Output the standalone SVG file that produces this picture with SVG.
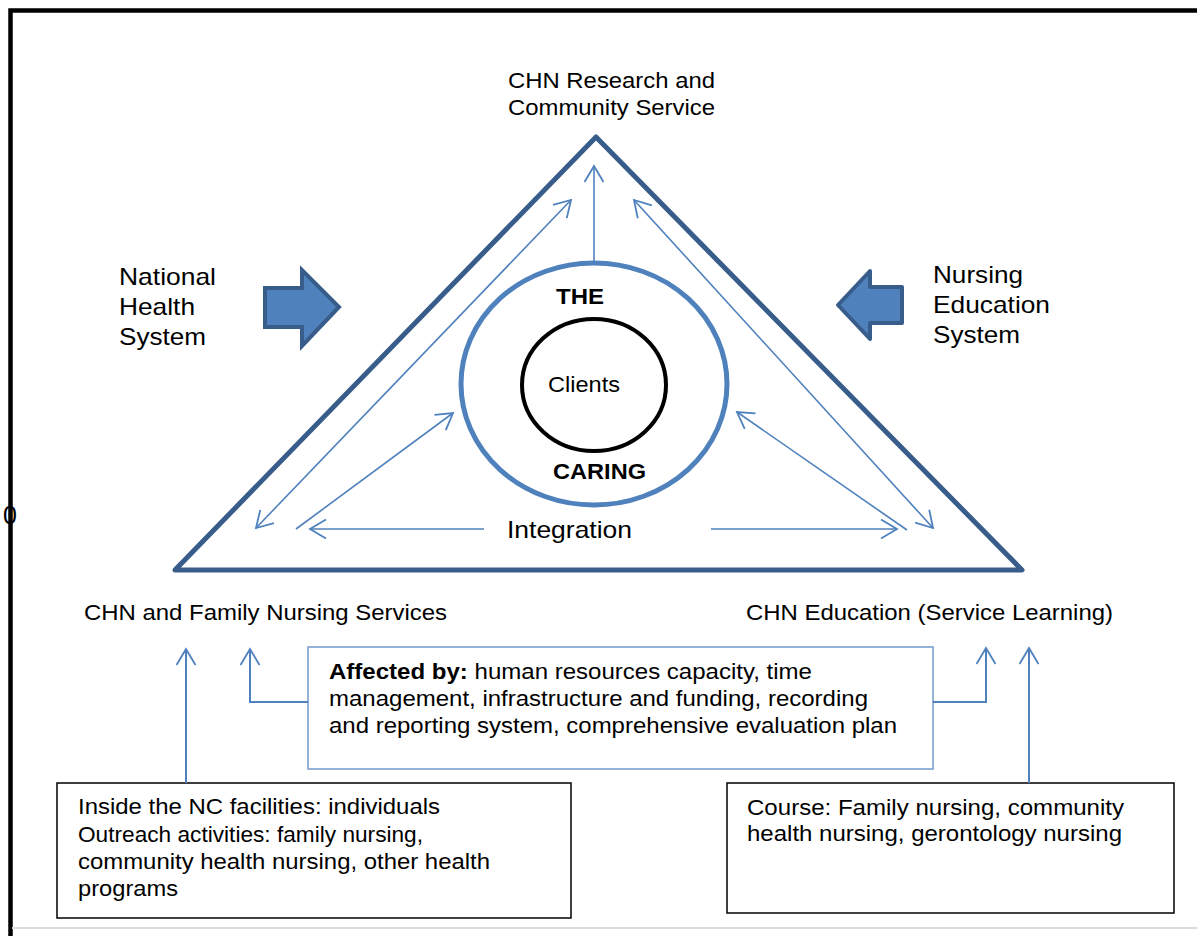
<svg xmlns="http://www.w3.org/2000/svg" width="1197" height="936" viewBox="0 0 1197 936">
  <style>
    text { font-family: "Liberation Sans", Arial, sans-serif; fill: #000; }
    .t22 { font-size: 22px; }
    .t24 { font-size: 24px; }
    .b { font-weight: bold; }
    .conn { fill: none; stroke: #4F81BD; stroke-width: 1.6; }
    .conn2 { fill: none; stroke: #4F81BD; stroke-width: 2; }
    .box { fill: #fff; stroke: #000; stroke-width: 1.5; }
    .blk { fill: #4F81BD; stroke: #385D8A; stroke-width: 4; }
  </style>
  <defs>
    <marker id="open" markerUnits="userSpaceOnUse" markerWidth="40" markerHeight="40" viewBox="-20 -20 40 40" refX="0" refY="0" orient="auto-start-reverse">
      <path d="M-16,-9.5 L0,0 L-16,9.5" fill="none" stroke="#4F81BD" stroke-width="1.8"/>
    </marker>
  </defs>

  <rect width="1197" height="936" fill="#fff"/>

  <!-- page frame -->
  <path d="M10.5,936 V10.5 H1197" fill="none" stroke="#000" stroke-width="4.5"/>
  <line x1="12" y1="928" x2="1197" y2="928" stroke="#dcdcdc" stroke-width="2"/>
  <text x="3" y="524" style="font-size:25px">0</text>

  <!-- main triangle -->
  <g id="triangle">
    <polygon points="596,137 1022,570 175,570" fill="none" stroke="#385D8A" stroke-width="5" stroke-linejoin="round"/>
  </g>

  <!-- caring ring with clients -->
  <g id="caring">
    <ellipse cx="594" cy="384" rx="133" ry="121" fill="none" stroke="#4F81BD" stroke-width="5"/>
    <text class="t22 b" x="556" y="304" textLength="48" lengthAdjust="spacingAndGlyphs">THE</text>
    <text class="t22 b" x="553" y="479" textLength="93" lengthAdjust="spacingAndGlyphs">CARING</text>
  </g>
  <g id="clients">
    <ellipse cx="594" cy="385" rx="72" ry="66" fill="none" stroke="#000" stroke-width="4"/>
    <text class="t22" x="548" y="392" textLength="72" lengthAdjust="spacingAndGlyphs">Clients</text>
  </g>

  <!-- corner labels -->
  <g id="research">
    <text class="t22" x="508" y="88" textLength="207" lengthAdjust="spacingAndGlyphs">CHN Research and</text>
    <text class="t22" x="508" y="115" textLength="207" lengthAdjust="spacingAndGlyphs">Community Service</text>
  </g>
  <g id="services">
    <text class="t22" x="84" y="620" textLength="363" lengthAdjust="spacingAndGlyphs">CHN and Family Nursing Services</text>
  </g>
  <g id="education">
    <text class="t22" x="746" y="620" textLength="367" lengthAdjust="spacingAndGlyphs">CHN Education (Service Learning)</text>
  </g>
  <g id="integration">
    <text class="t24" x="507" y="538" textLength="125" lengthAdjust="spacingAndGlyphs">Integration</text>
  </g>

  <!-- external systems -->
  <g id="national-health">
    <text class="t24" x="119" y="285" textLength="97" lengthAdjust="spacingAndGlyphs">National</text>
    <text class="t24" x="119" y="315" textLength="76" lengthAdjust="spacingAndGlyphs">Health</text>
    <text class="t24" x="119" y="345" textLength="87" lengthAdjust="spacingAndGlyphs">System</text>
    <polygon class="blk" points="265,288 302,288 302,270 339,307 302,346 302,327 265,327" stroke-linejoin="miter"/>
  </g>
  <g id="nursing-education">
    <text class="t24" x="933" y="283" textLength="90" lengthAdjust="spacingAndGlyphs">Nursing</text>
    <text class="t24" x="933" y="313" textLength="117" lengthAdjust="spacingAndGlyphs">Education</text>
    <text class="t24" x="933" y="343" textLength="87" lengthAdjust="spacingAndGlyphs">System</text>
    <polygon class="blk" points="902,287 870,287 870,271 838,305 870,339 870,323 902,323" stroke-linejoin="round"/>
  </g>

  <!-- influencing factors -->
  <g id="affected">
    <rect x="308" y="647" width="625" height="122" fill="#fff" stroke="#7BA0CD" stroke-width="1.6"/>
    <text class="t22" x="329" y="679" textLength="483" lengthAdjust="spacingAndGlyphs"><tspan class="b">Affected by:</tspan> human resources capacity, time</text>
    <text class="t22" x="329" y="706" textLength="539" lengthAdjust="spacingAndGlyphs">management, infrastructure and funding, recording</text>
    <text class="t22" x="329" y="733" textLength="568" lengthAdjust="spacingAndGlyphs">and reporting system, comprehensive evaluation plan</text>
  </g>

  <!-- service detail -->
  <g id="service-detail">
    <rect class="box" x="57" y="783" width="514" height="135"/>
    <text class="t22" x="78" y="814" textLength="362" lengthAdjust="spacingAndGlyphs">Inside the NC facilities: individuals</text>
    <text class="t22" x="78" y="842" textLength="345" lengthAdjust="spacingAndGlyphs">Outreach activities: family nursing,</text>
    <text class="t22" x="78" y="869" textLength="412" lengthAdjust="spacingAndGlyphs">community health nursing, other health</text>
    <text class="t22" x="78" y="896" textLength="100" lengthAdjust="spacingAndGlyphs">programs</text>
  </g>

  <!-- course detail -->
  <g id="course-detail">
    <rect class="box" x="727" y="783" width="447" height="130"/>
    <text class="t22" x="747" y="815" textLength="377" lengthAdjust="spacingAndGlyphs">Course: Family nursing, community</text>
    <text class="t22" x="747" y="841" textLength="375" lengthAdjust="spacingAndGlyphs">health nursing, gerontology nursing</text>
  </g>

  <!-- connectors -->
  <g id="connectors">
    <line class="conn" x1="594" y1="263" x2="594" y2="166" marker-end="url(#open)"/>
    <line class="conn" x1="256" y1="528" x2="571" y2="200" marker-start="url(#open)" marker-end="url(#open)"/>
    <line class="conn" x1="933" y1="528" x2="634" y2="200" marker-start="url(#open)" marker-end="url(#open)"/>
    <line class="conn" x1="296" y1="529" x2="453" y2="413" marker-end="url(#open)"/>
    <line class="conn" x1="907" y1="530" x2="737" y2="412" marker-end="url(#open)"/>
    <line class="conn" x1="484" y1="529" x2="310" y2="529" marker-end="url(#open)"/>
    <line class="conn" x1="711" y1="529" x2="897" y2="529" marker-end="url(#open)"/>

    <line class="conn2" x1="186" y1="783" x2="186" y2="649" marker-end="url(#open)"/>
    <polyline class="conn2" points="308,702 250,702 250,649" marker-end="url(#open)"/>
    <polyline class="conn2" points="933,702 986,702 986,648" marker-end="url(#open)"/>
    <line class="conn2" x1="1029" y1="783" x2="1029" y2="648" marker-end="url(#open)"/>
  </g>
</svg>
